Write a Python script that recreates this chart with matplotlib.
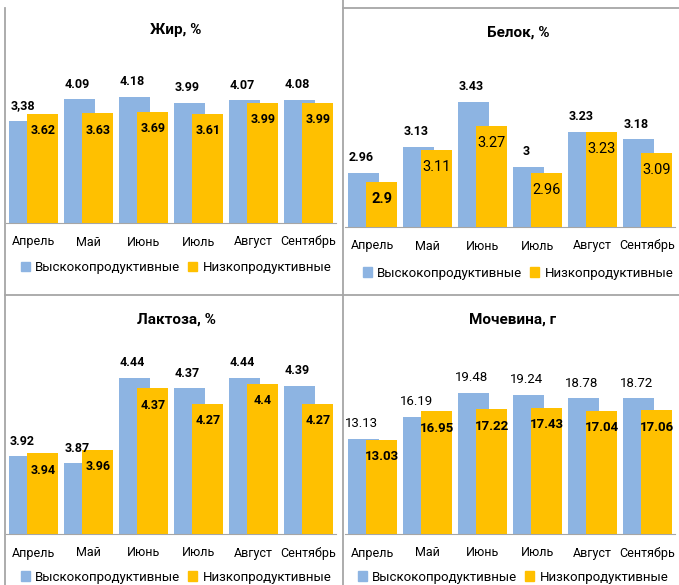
#import libraries
import matplotlib
matplotlib.use("Agg")
import matplotlib.pyplot as plt
from matplotlib.patches import Patch
from matplotlib.lines import Line2D

plt.rcParams['font.family'] = ['Roboto', 'DejaVu Sans']

# DATA #
months = ['Апрель', 'Май', 'Июнь', 'Июль', 'Август', 'Сентябрь']
series_names = ['Выскокопродуктивные', 'Низкопродуктивные']

fat_high = [3.38, 4.09, 4.18, 3.99, 4.07, 4.08]
fat_low = [3.62, 3.63, 3.69, 3.61, 3.99, 3.99]

protein_high = [2.96, 3.13, 3.43, 3.00, 3.23, 3.18]
protein_low = [2.90, 3.11, 3.27, 2.96, 3.23, 3.09]

lactose_high = [3.92, 3.87, 4.44, 4.37, 4.44, 4.39]
lactose_low = [3.94, 3.96, 4.37, 4.27, 4.40, 4.27]

urea_high = [13.13, 16.19, 19.48, 19.24, 18.78, 18.72]
urea_low = [13.03, 16.95, 17.22, 17.43, 17.04, 17.06]

titles = ['Жир, %', 'Белок, %', 'Лактоза, %', 'Мочевина, г']

blue = '#8DB4E2'
yellow = '#FFC000'
border = '#A6A6A6'

W, H = 679, 585
fig = plt.figure(figsize=(W / 100, H / 100), dpi=100)

def px_axes(x0, x1, top, bottom):
    # pixel box (y from top) -> figure axes
    return fig.add_axes([x0 / W, 1 - bottom / H, (x1 - x0) / W, (bottom - top) / H])

def fmt(v):
    return f"{v:g}"

# panel settings: data, pixel box, y range, label weights, title/legend positions
panels = [
    dict(hi=fat_high, lo=fat_low, box=(6, 336, 72, 223), ylim=(0, 5),
         hw='bold', lw='bold', lsize=9, title_y=30, leg_y=268, cx=176),
    dict(hi=protein_high, lo=protein_low, box=(345, 675, 76, 227), ylim=(2.6, 3.6),
         hw='bold', lw='normal', lsize=10.5, title_y=33, leg_y=273, cx=518),
    dict(hi=lactose_high, lo=lactose_low, box=(6, 336, 354, 534), ylim=(3.4, 4.6),
         hw='bold', lw='bold', lsize=9, title_y=320, leg_y=577, cx=176),
    dict(hi=urea_high, lo=urea_low, box=(345, 675, 353, 534), ylim=(0, 25),
         hw='normal', lw='bold', lsize=9.5, title_y=320, leg_y=577, cx=513),
]

x = list(range(len(months)))
off = 0.17
bw = 0.56

for i, p in enumerate(panels):
    x0, x1, top, bottom = p['box']
    ax = px_axes(x0, x1, top, bottom)
    ymin, ymax = p['ylim']
    ppu = (bottom - top) / (ymax - ymin)  # pixels per unit
    ax.bar([k - off for k in x], [v - ymin for v in p['hi']], bw, bottom=ymin,
           color=blue, zorder=2)
    ax.bar([k + off for k in x], [v - ymin for v in p['lo']], bw, bottom=ymin,
           color=yellow, zorder=3)
    ax.set_xlim(-0.5, 5.5)
    ax.set_ylim(ymin, ymax)
    for k in x:
        hv = p['hi'][k]
        txt = fmt(hv)
        if i == 0 and k == 0:
            txt = '3,38'
        ax.text(k - off - 0.03, hv + 15 / ppu, txt, ha='center', va='center',
                fontsize=9.5 if i == 3 else 9, fontweight=p['hw'], color='black',
                zorder=4, clip_on=False)
        lv = p['lo'][k]
        lw = p['lw']
        sz = p['lsize']
        if i == 1 and k == 0:
            lw = 'bold'
        ax.text(k + off, lv - 17 / ppu, fmt(lv), ha='center', va='center',
                fontsize=sz, fontweight=lw, color='black', zorder=4)
    for s in ['top', 'right', 'left']:
        ax.spines[s].set_visible(False)
    ax.spines['bottom'].set_color('#A6A6A6')
    ax.set_yticks([])
    ax.set_xticks(x)
    ax.set_xticklabels(months, fontsize=9)
    ax.tick_params(axis='x', length=0, pad=9)
    ax.patch.set_alpha(0)

    fig.text(p['cx'] / W, 1 - p['title_y'] / H, titles[i], ha='center', va='center',
             fontsize=11, fontweight='bold')
    handles = [Patch(color=blue), Patch(color=yellow)]
    fig.legend(handles, series_names, loc='center', bbox_to_anchor=(p['cx'] / W, 1 - p['leg_y'] / H),
               ncol=2, frameon=False, fontsize=9.5, handlelength=0.7, handleheight=0.7,
               handletextpad=0.4, columnspacing=0.6, borderpad=0)

# panel borders
lines = [
    ((5, 5), (8, 585)),
    ((343, 343), (0, 585)),
    ((5, 679), (295, 295)),
    ((343, 679), (8, 8)),
]
for xs, ys in lines:
    fig.add_artist(Line2D([v / W for v in xs], [1 - v / H for v in ys], color=border, lw=1.3))

fig.savefig('out.png', dpi=100, facecolor='white')
